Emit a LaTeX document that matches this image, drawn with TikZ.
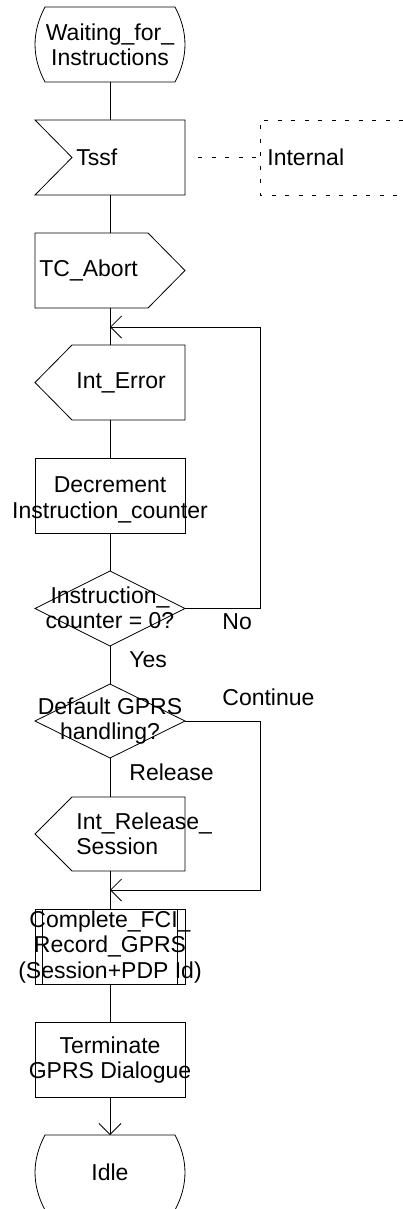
\documentclass[tikz,border=0pt]{standalone}
\usepackage{fontspec}
\setmainfont{Liberation Sans}
\usetikzlibrary{arrows.meta}
\newcommand\sdlstateshape[2]{%
  \draw (45,#1) -- (175,#1) .. controls (188.3,#1+25) and (188.3,#2-25) .. (175,#2)
        -- (45,#2) .. controls (31.7,#2-25) and (31.7,#1+25) .. (45,#1) -- cycle;}
\begin{document}
\begin{tikzpicture}[x=1pt,y=-1pt,line width=0.8pt,
  lbl/.style={inner sep=0pt,font=\fontsize{23}{25.5}\selectfont,align=center},
  lbll/.style={lbl,align=left,anchor=west},
  barb/.style={-{Straight Barb[length=11pt,width=22pt]}},
  dsh/.style={dash pattern=on 4pt off 9.5pt}]
\useasboundingbox (0,0) rectangle (403,1209);

% start state
\sdlstateshape{7}{82}
\coordinate (s1b) at (110,82);
\node[lbl] (s1) at (110,45) {Waiting\_for\_\\Instructions};

% Tssf input
\draw (35,120) -- (185,120) -- (185,195) -- (35,195) -- (72,157.5) -- cycle;
\coordinate (tssft) at (110,120);
\coordinate (tssfb) at (110,195);
\coordinate (dstart) at (198,157.5);
\node[lbll] (tssf) at (76,157.5) {Tssf};

% Internal dashed box
\draw[dsh] (403,120) -- (260,120) -- (260,195) -- (403,195);
\coordinate (intw) at (260,157.5);
\node[lbll] (internal) at (267,157.5) {Internal};
\draw[dsh] (dstart) -- (intw);

% TC_Abort output
\draw (35,233) -- (148,233) -- (185,270.5) -- (148,308) -- (35,308) -- cycle;
\coordinate (abt) at (110,233);
\coordinate (abb) at (110,308);
\node[lbll] (abort) at (39,270.5) {TC\_Abort};

% Int_Error input
\draw (72,345) -- (185,345) -- (185,420) -- (72,420) -- (35,382.5) -- cycle;
\coordinate (iet) at (110,345);
\coordinate (ieb) at (110,420);
\node[lbll] (interr) at (76,382.5) {Int\_Error};

% Decrement task
\draw (35,458) rectangle (185,533);
\coordinate (dect) at (110,458);
\coordinate (decb) at (110,533);
\node[lbl] (dec) at (110,500) {Decrement\\Instruction\_counter};

% decision 1
\draw (110,571) -- (185,608.5) -- (110,646) -- (35,608.5) -- cycle;
\coordinate (d1t) at (110,571);
\coordinate (d1r) at (185,608.5);
\coordinate (d1b) at (110,646);
\node[lbl] (d1) at (110,608) {Instruction\_\\counter = 0?};
\node[lbll] (no) at (222,622) {No};
\node[lbll] (yes) at (129,660) {Yes};

% decision 2
\draw (110,684) -- (185,721) -- (110,758) -- (35,721) -- cycle;
\coordinate (d2t) at (110,684);
\coordinate (d2r) at (185,721);
\coordinate (d2b) at (110,758);
\node[lbl] (d2) at (110,721) {Default GPRS\\handling?};
\node[lbll] (cont) at (222,697) {Continue};
\node[lbll] (rel) at (129,772) {Release};

% Int_Release_Session input
\draw (72,797) -- (185,797) -- (185,871) -- (72,871) -- (35,834) -- cycle;
\coordinate (irt) at (110,797);
\coordinate (irb) at (110,871);
\node[lbll] (intrel) at (76,834) {Int\_Release\_\\Session};

% Complete_FCI procedure call
\draw (35,909) rectangle (185,984);
\draw (42.5,909) -- (42.5,984);
\draw (177.5,909) -- (177.5,984);
\coordinate (cft) at (110,909);
\coordinate (cfb) at (110,984);
\node[lbl] (cfi) at (110,947) {Complete\_FCI\_\\Record\_GPRS\\(Session+PDP Id)};

% Terminate task
\draw (35,1022) rectangle (185,1097);
\coordinate (tmt) at (110,1022);
\coordinate (tmb) at (110,1097);
\node[lbl] (term) at (110,1060) {Terminate\\GPRS Dialogue};

% Idle state
\sdlstateshape{1135}{1210}
\coordinate (idt) at (110,1135);
\node[lbl] (idle) at (110,1172) {Idle};

% junctions
\coordinate (j1) at (110,327);
\coordinate (j2) at (110,890);

% connectors
\draw (s1b) -- (tssft);
\draw (tssfb) -- (abt);
\draw (abb) -- (iet);
\draw (ieb) -- (dect);
\draw (decb) -- (d1t);
\draw (d1b) -- (d2t);
\draw (d2b) -- (irt);
\draw (irb) -- (cft);
\draw (cfb) -- (tmt);
\draw[barb] (tmb) -- (idt);
\draw[barb] (d1r) -- (260,608.5) |- (j1);
\draw[barb] (d2r) -- (260,721) |- (j2);
\end{tikzpicture}
\end{document}
